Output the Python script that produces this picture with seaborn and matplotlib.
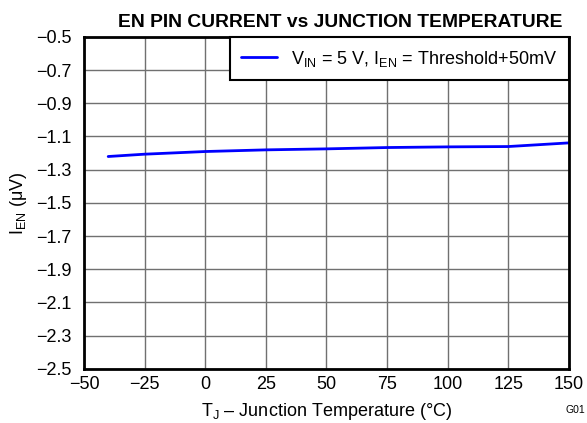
import matplotlib
matplotlib.use("Agg")
import matplotlib.pyplot as plt
import seaborn as sns
import pandas as pd

temps = [-40, -25, 0, 25, 50, 75, 100, 125, 150]
i_en = [-1.221, -1.207, -1.191, -1.181, -1.175, -1.167, -1.163, -1.161, -1.139]
x_ticks = [-50, -25, 0, 25, 50, 75, 100, 125, 150]
y_ticks = [-2.5, -2.3, -2.1, -1.9, -1.7, -1.5, -1.3, -1.1, -0.9, -0.7, -0.5]
series_label = r"V$_{\mathrm{IN}}$ = 5 V, I$_{\mathrm{EN}}$ = Threshold+50mV"

sns.set_style("white")
plt.rcParams["font.family"] = ["Liberation Sans", "DejaVu Sans"]
plt.rcParams["mathtext.fontset"] = "custom"
plt.rcParams["mathtext.rm"] = "Liberation Sans"
plt.rcParams["mathtext.it"] = "Liberation Sans"
plt.rcParams["mathtext.default"] = "rm"
plt.rcParams["text.color"] = "black"
plt.rcParams["axes.labelcolor"] = "black"
plt.rcParams["xtick.color"] = "black"
plt.rcParams["ytick.color"] = "black"

df = pd.DataFrame({"T": temps, "I": i_en, "s": series_label})

fig = plt.figure(figsize=(5.87, 4.23), dpi=100)
ax = fig.add_axes([0.143, 0.128, 0.826, 0.785])
sns.lineplot(data=df, x="T", y="I", hue="s", palette=["#0000ff"], linewidth=2, ax=ax)

ax.set_xlim(-50, 150)
ax.set_ylim(-2.5, -0.5)
ax.set_xticks(x_ticks)
ax.set_yticks(y_ticks)
ax.set_xticklabels([f"{v}".replace("-", "\u2212") for v in x_ticks], fontsize=13)
ax.set_yticklabels([f"{v:.1f}".replace("-", "\u2212") for v in y_ticks], fontsize=13)
ax.tick_params(axis="x", length=0, pad=5, labelcolor="black")
ax.tick_params(axis="y", length=0, pad=9, labelcolor="black")
ax.grid(True, color="#707070", linewidth=1)
for sp in ax.spines.values():
    sp.set_color("black")
    sp.set_linewidth(2)

ax.set_xlabel("T$_{\\mathrm{J}}$ \u2013 Junction Temperature (\u00b0C)", fontsize=13, labelpad=6, color="black")
ax.set_ylabel("I$_{\\mathrm{EN}}$ (\u03bcV)", fontsize=13, labelpad=5, color="black")
ax.set_title("EN PIN CURRENT vs JUNCTION TEMPERATURE", fontsize=13.9, fontweight="bold",
             pad=7, x=0.529, color="black")

leg = ax.legend(loc="upper right", fontsize=13, frameon=True, fancybox=False,
                borderaxespad=0, handlelength=1.95, handletextpad=0.8,
                borderpad=0.65, title=None)
leg.get_frame().set_edgecolor("black")
leg.get_frame().set_linewidth(1.5)
leg.get_frame().set_alpha(1)
for t in leg.get_texts():
    t.set_color("black")

fig.text(0.997, 0.02, "G01", fontsize=7.5, ha="right", va="bottom", color="black")

fig.savefig("out.png", dpi=100)
